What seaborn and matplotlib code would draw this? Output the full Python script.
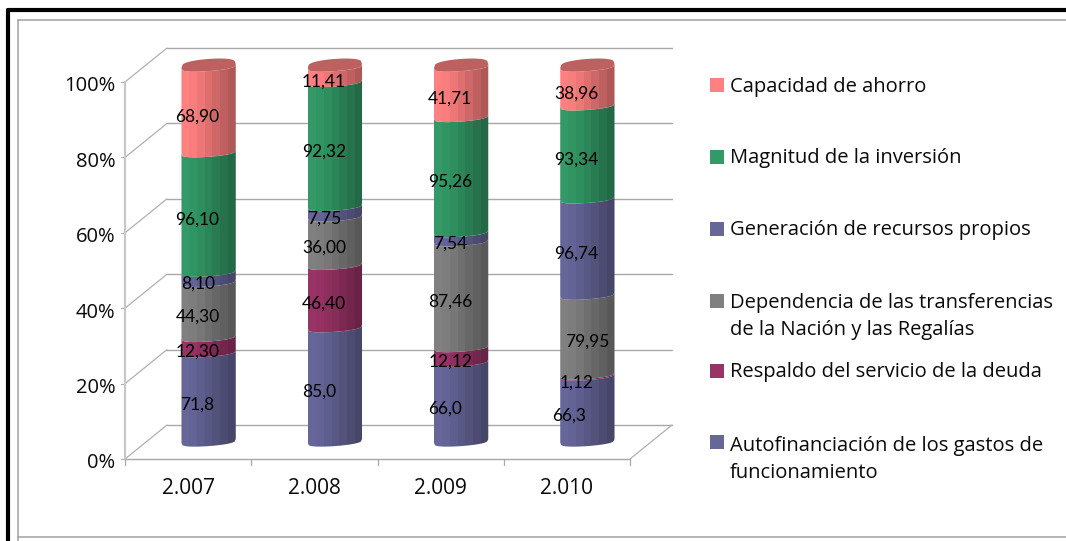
import numpy as np
import matplotlib
matplotlib.use('Agg')
import matplotlib.pyplot as plt
from matplotlib.patches import Polygon, Rectangle
from matplotlib.lines import Line2D
from matplotlib.transforms import ScaledTranslation
import seaborn as sns

# Data (the bars are 100% stacked raw values)
years = ['2.007', '2.008', '2.009', '2.010']
autofinanciacion = [71.8, 85.0, 66.0, 66.3]
respaldo = [12.30, 46.40, 12.12, 1.12]
dependencia = [44.30, 36.00, 87.46, 79.95]
generacion = [8.10, 7.75, 7.54, 96.74]
magnitud = [96.10, 92.32, 95.26, 93.34]
capacidad = [68.90, 11.41, 41.71, 38.96]

label_autofin = ['71,8', '85,0', '66,0', '66,3']
label_respaldo = ['12,30', '46,40', '12,12', '1,12']
label_depend = ['44,30', '36,00', '87,46', '79,95']
label_genera = ['8,10', '7,75', '7,54', '96,74']
label_magnitud = ['96,10', '92,32', '95,26', '93,34']
label_capacidad = ['68,90', '11,41', '41,71', '38,96']

series_names = [
    'Autofinanciación de los gastos de\nfuncionamiento',
    'Respaldo del servicio de la deuda',
    'Dependencia de las transferencias\nde la Nación y las Regalías',
    'Generación de recursos propios',
    'Magnitud de la inversión',
    'Capacidad de ahorro',
]
series_colors = ['#666699', '#993366', '#808080', '#666699', '#339966', '#FF8080']
y_ticks = [0, 20, 40, 60, 80, 100]

sns.set_theme(style='white')
plt.rcParams['font.family'] = ['Open Sans', 'DejaVu Sans']

W, H = 1066, 541
fig = plt.figure(figsize=(W / 100, H / 100), dpi=100)


def px_rect(x0, y_top, x1, y_bot):
    return [x0 / W, 1 - y_bot / H, (x1 - x0) / W, (y_bot - y_top) / H]


# outer frame of the picture
for xs, ys, col, lw in [([8, 8], [541, 10], 'black', 3),
                        ([8, 1066], [10, 10], 'black', 3),
                        ([17.5, 17.5], [541, 20], '#a0a0a0', 1.1),
                        ([17.5, 1066], [20, 20], '#a0a0a0', 1.1),
                        ([17.5, 1066], [536.5, 536.5], '#a0a0a0', 1.1)]:
    fig.add_artist(Line2D([x / W for x in xs], [1 - y / H for y in ys], color=col, lw=lw))

# front plane: ticks and labels
ax = fig.add_axes(px_rect(125, 82, 630, 459))
ax.set_xlim(-0.5, 3.5)
ax.set_ylim(0, 100)
ax.patch.set_alpha(0)
ax.set_xticks(np.arange(len(years)))
ax.set_xticklabels(years, fontsize=15, color='#0a0a0a')
ax.set_yticks(y_ticks)
ax.set_yticklabels([f'{t}%' for t in y_ticks], fontsize=14.5, color='#0a0a0a')
ax.tick_params(axis='x', length=0, pad=14)
ax.tick_params(axis='y', length=0, pad=7)
shift_down = ScaledTranslation(0, -2 / 100, fig.dpi_scale_trans)
for lbl in ax.get_yticklabels():
    lbl.set_transform(lbl.get_transform() + shift_down)
for s in ['top', 'right']:
    ax.spines[s].set_visible(False)
ax.spines['left'].set_color('#c8c8c8')
ax.spines['left'].set_linewidth(1.6)
ax.spines['bottom'].set_color('#a8a8a8')
ax.spines['bottom'].set_linewidth(1.0)

# depth of the fake 3D box, in data units of the front plane
depth_x = 42 / (505 / 4)
depth_y = 34 / 3.77
for t in y_ticks:
    ax.plot([-0.5, -0.5 + depth_x], [t, t + depth_y], color='#b0b0b0', lw=0.9, clip_on=False)
    ax.plot([-0.5 + depth_x, 3.5 + depth_x], [t + depth_y, t + depth_y], color='#a8a8a8', lw=1.0,
            clip_on=False, zorder=1)
    ax.plot([-0.5 - 0.035, -0.5], [t, t], color='#b0b0b0', lw=0.9, clip_on=False)
ax.plot([3.5, 3.5 + depth_x], [0, depth_y], color='#b0b0b0', lw=0.9, clip_on=False)
for i in range(5):
    ax.plot([i - 0.5, i - 0.5], [0, -1.6], color='#a8a8a8', lw=0.9, clip_on=False)

# bars sit half way into the box, axes padded so the rounded ends are not cut
ax_bar = fig.add_axes(px_rect(145.5, 68 - 18.75, 650.5, 443 + 18.75))
ax_bar.patch.set_alpha(0)

values = np.array([autofinanciacion, respaldo, dependencia, generacion, magnitud, capacidad])
labels = [label_autofin, label_respaldo, label_depend, label_genera, label_magnitud, label_capacidad]
shares = values / values.sum(axis=0) * 100
bottoms = np.vstack([np.zeros(len(years)), shares.cumsum(axis=0)[:-1]])

for k in range(len(values)):
    sns.barplot(x=years, y=shares[k], bottom=bottoms[k], color=series_colors[k], saturation=1,
                width=0.43, ax=ax_bar)

tilt = 1.05
sag = 1.35
band_shade = [1.0, 0.98, 0.93, 0.87, 0.81, 0.75, 0.69]
t = np.linspace(0, 1, 50)
curve = np.sqrt(1 - (2 * t - 1) ** 2) ** 0.6

for n, patch in enumerate(list(ax_bar.patches)):
    k = n // len(years)
    x0, w = patch.get_x(), patch.get_width()
    y0, h = patch.get_y(), patch.get_height()
    patch.set_visible(False)
    xs = x0 + w * t
    low = y0 + tilt * t - sag * curve
    up = y0 + h + tilt * t - sag * curve
    outline = Polygon(np.r_[np.c_[xs, low], np.c_[xs, up][::-1]], closed=True, fc='none', ec='none',
                      transform=ax_bar.transData)
    ax_bar.add_patch(outline)
    rgb = np.array(matplotlib.colors.to_rgb(series_colors[k]))
    grad = np.array([[rgb * s for s in band_shade]])
    im = ax_bar.imshow(grad, extent=[x0, x0 + w, y0 - 3, y0 + h + 3], aspect='auto',
                       interpolation='nearest', zorder=2 + 0.01 * k)
    im.set_clip_path(outline)
    if k == len(values) - 1:
        top = y0 + h + tilt * t + sag * 1.4 * curve
        ax_bar.add_patch(Polygon(np.r_[np.c_[xs, up], np.c_[xs, top][::-1]], closed=True,
                                 fc='#bd6060', ec='none', zorder=3))

ax_bar.set_xlim(-0.5, 3.5)
ax_bar.set_ylim(-5, 105)
ax_bar.axis('off')

# value labels, slightly off centre like in the original
label_nudge = {(0, 1): -16, (0, 2): -16, (0, 3): -18, (2, 3): 0}
for k in range(len(values)):
    for i in range(len(years)):
        ax_bar.annotate(labels[k][i], (i, bottoms[k][i] + shares[k][i] / 2), xycoords='data',
                        xytext=(label_nudge.get((k, i), -11) * 0.72, -4.2), textcoords='offset points',
                        ha='center', va='center', fontsize=12.5, family=['Lato', 'DejaVu Sans'],
                        color='black', zorder=5)

# legend entries placed by hand, the original spacing is not regular
legend_y = [458, 371, 315, 229, 157, 86]
legend_box_y = [442, 371, 301, 229, 157, 85]
for name, col, y, by in zip(series_names, series_colors, legend_y, legend_box_y):
    fig.add_artist(Rectangle((710 / W, 1 - (by + 7) / H), 13.5 / W, 14 / H, fc=col, ec='none',
                             transform=fig.transFigure))
    fig.text(729.5 / W, 1 - (y + 1.5) / H, name, fontsize=14.5, color='#0a0a0a', va='center', ha='left',
             linespacing=1.42)

fig.savefig('out.png', dpi=100)
